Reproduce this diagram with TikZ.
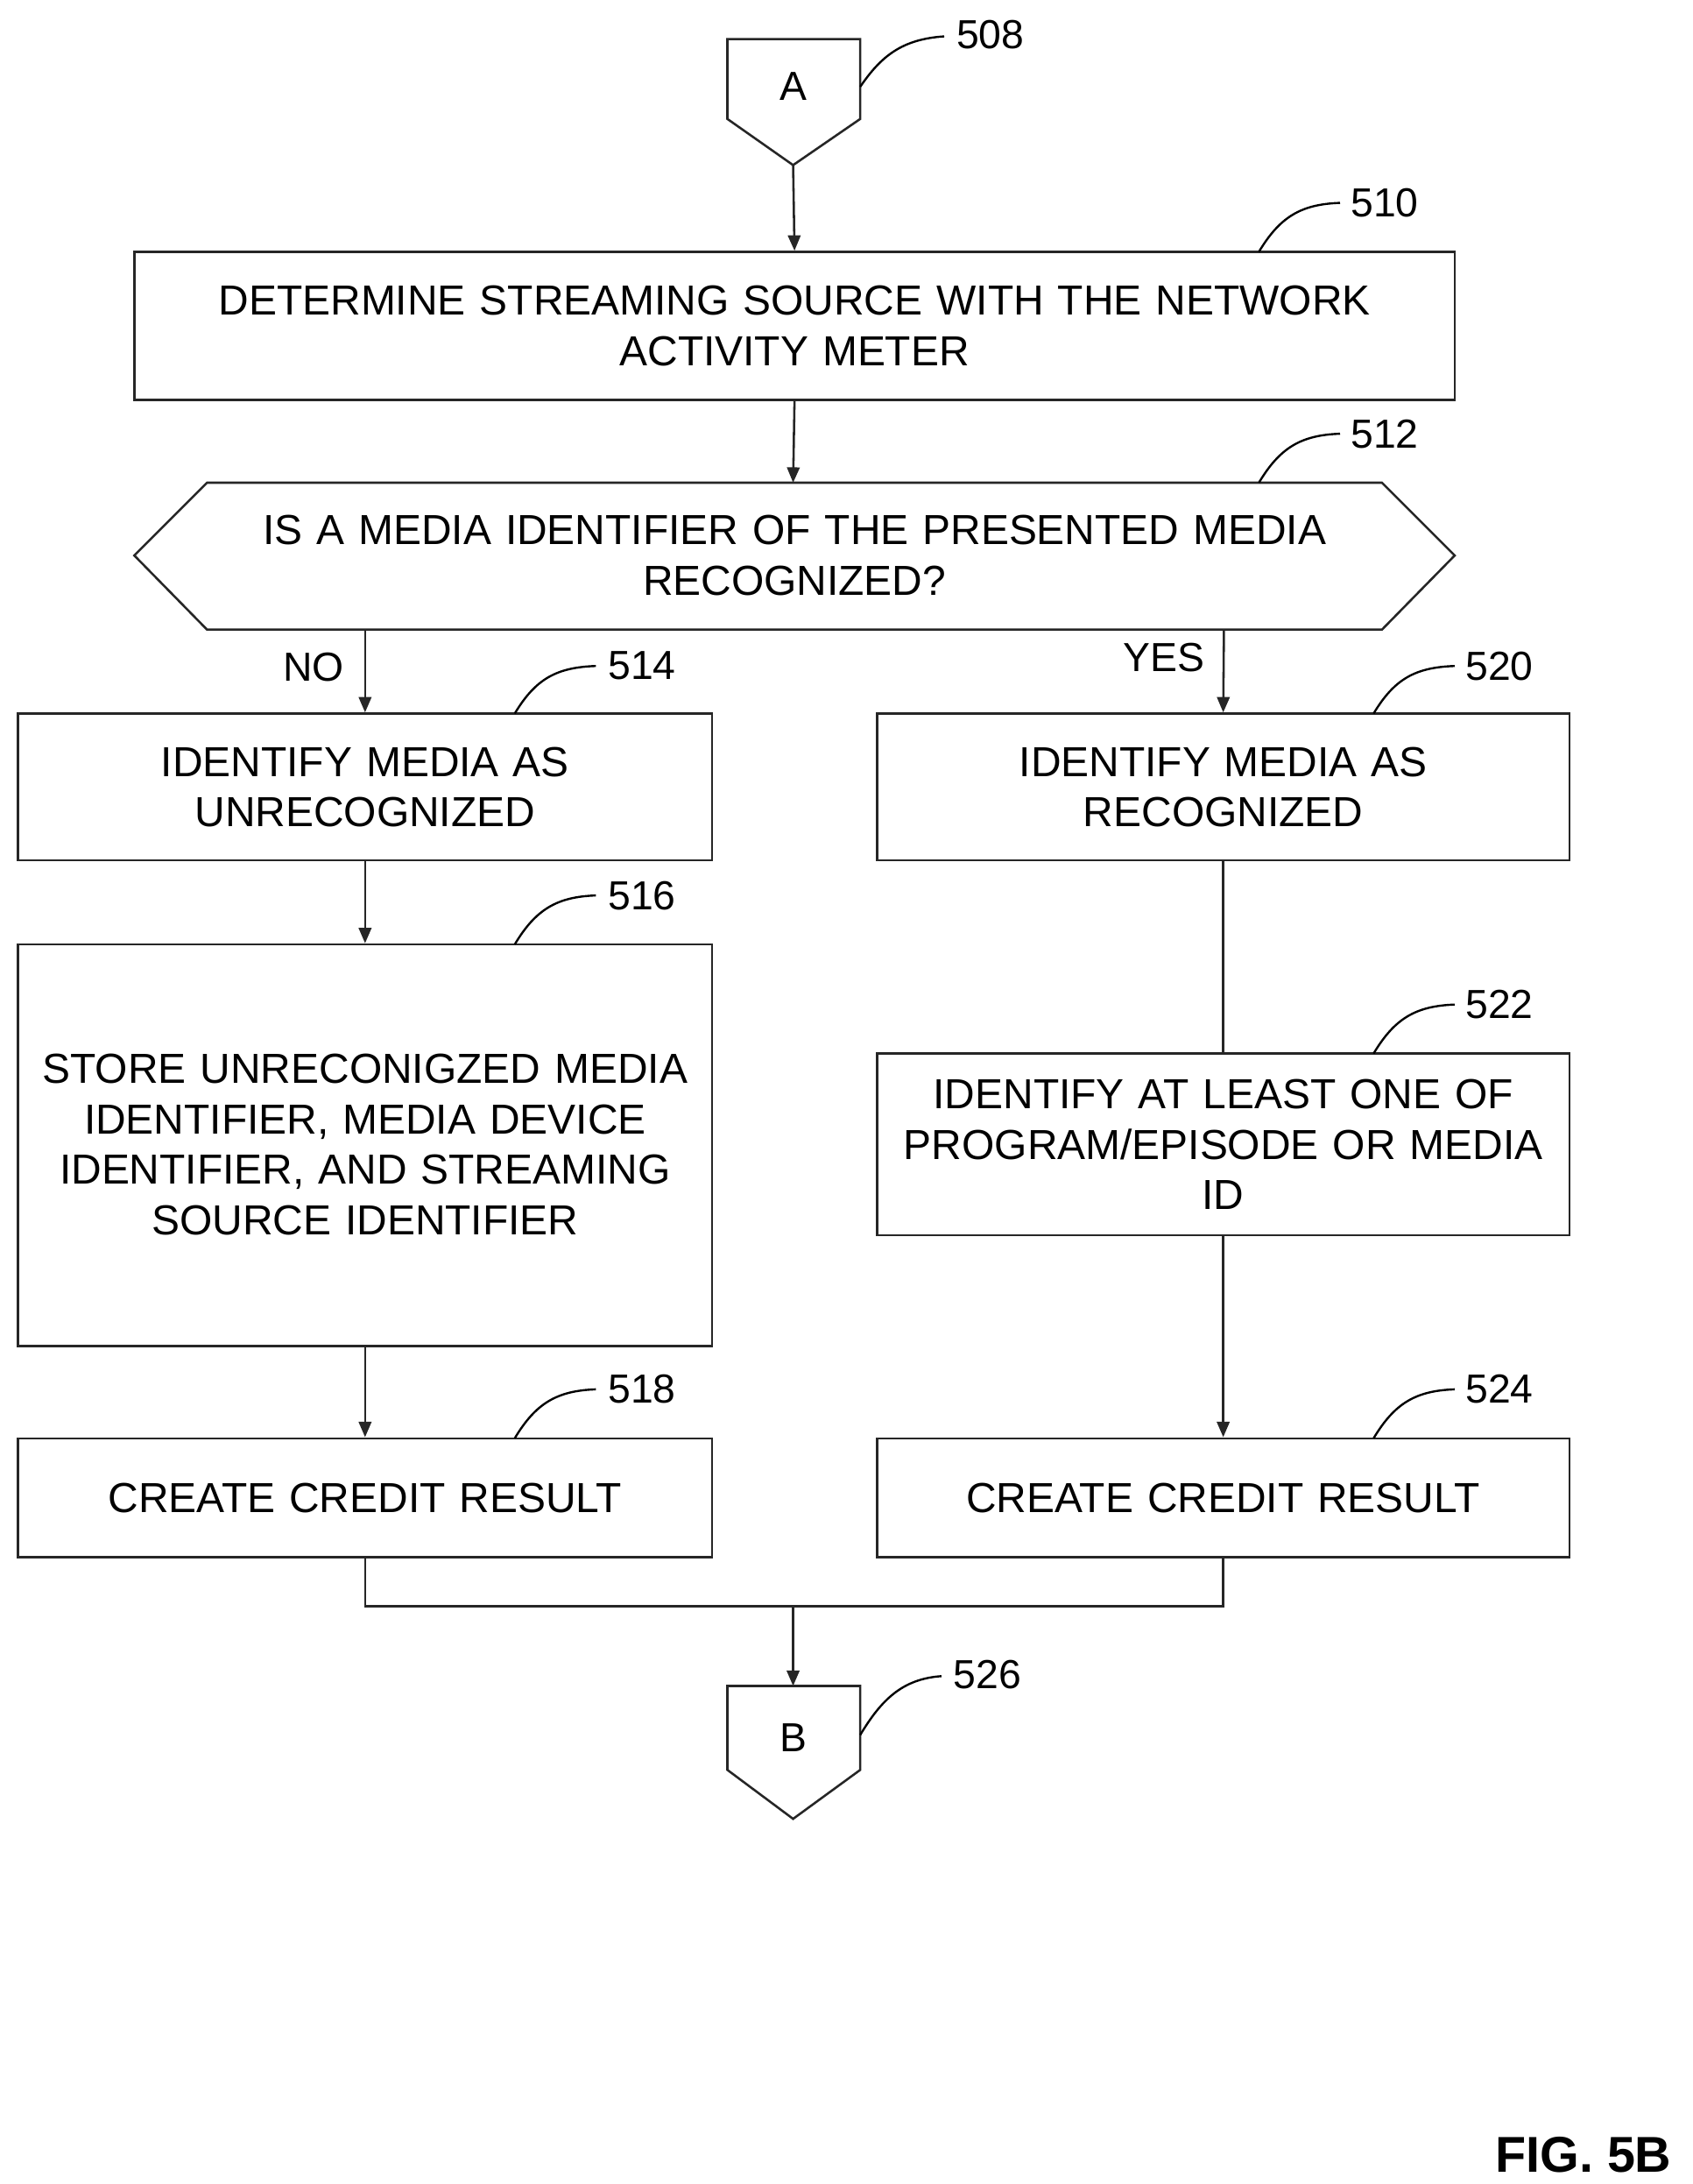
\documentclass[tikz,border=0pt]{standalone}
\usepackage{fontspec}
\setmainfont{Liberation Sans}
\usetikzlibrary{arrows.meta}
\begin{document}
\begin{tikzpicture}[x=1pt,y=-1pt,
  ln/.style={line width=1.6pt,draw=black!85},
  arr/.style={ln,-{Triangle[length=11pt,width=9pt]}},
  lbl/.style={font=\fontsize{30}{36}\selectfont,align=center,text width=#1},
  num/.style={font=\fontsize{29}{32}\selectfont},
  lead/.style={line width=1.5pt}]
\useasboundingbox (0,0) rectangle (1210,1561);
% connector A
\draw[ln] (520,28) -- (615,28) -- (615,85) -- (567,118) -- (520,85) -- cycle;
\node[num] (A) at (567,62) {A};
\coordinate (Abot) at (567,118);
\node[num] (n508) at (708,25) {508};
\draw[lead] (615,62) .. controls (630,40) and (645,28) .. (675,26);
% 510
\node[draw,ln,minimum width=944pt,minimum height=106pt] (b510) at (568,233) {};
\node[lbl=900pt] at (b510) {DETERMINE STREAMING SOURCE WITH THE NETWORK\\ACTIVITY METER};
\node[num] (n510) at (990,145) {510};
\draw[lead] (900,180) .. controls (915,155) and (930,146) .. (958,145);
\draw[arr] (Abot) -- (b510.north);
% 512 hexagon
\draw[ln] (148,345) -- (988,345) -- (1040,397) -- (988,450) -- (148,450) -- (96,397) -- cycle;
\coordinate (h512t) at (567,345);
\node[lbl=880pt] (t512) at (568,397) {IS A MEDIA IDENTIFIER OF THE PRESENTED MEDIA\\RECOGNIZED?};
\node[num] (n512) at (990,310) {512};
\draw[lead] (900,345) .. controls (915,320) and (930,311) .. (958,310);
\draw[arr] (b510.south) -- (h512t);
\coordinate (hNo) at (261,450);
\coordinate (hYes) at (875,450);
% 514
\node[draw,ln,minimum width=496pt,minimum height=105pt] (b514) at (261,562.5) {};
\node[lbl=470pt] at (b514) {IDENTIFY MEDIA AS\\UNRECOGNIZED};
\node[num] (n514) at (459,476) {514};
\draw[lead] (368,510) .. controls (383,485) and (398,477) .. (426,476);
% 520
\node[draw,ln,minimum width=495pt,minimum height=105pt] (b520) at (874.5,562.5) {};
\node[lbl=470pt] at (b520) {IDENTIFY MEDIA AS\\RECOGNIZED};
\node[num] (n520) at (1072,476) {520};
\draw[lead] (982,510) .. controls (997,485) and (1012,477) .. (1040,476);
\draw[arr] (hNo) -- (b514.north);
\draw[arr] (hYes) -- (b520.north);
\node[num] (no) at (224,477) {NO};
\node[num] (yes) at (832,470) {YES};
% 516
\node[draw,ln,minimum width=496pt,minimum height=287pt] (b516) at (261,818.5) {};
\node[lbl=490pt] at (261,818) {STORE UNRECONIGZED MEDIA\\IDENTIFIER, MEDIA DEVICE\\IDENTIFIER, AND STREAMING\\SOURCE IDENTIFIER};
\node[num] (n516) at (459,640) {516};
\draw[lead] (368,675) .. controls (383,650) and (398,641) .. (426,640);
\draw[arr] (b514.south) -- (b516.north);
% 522
\node[draw,ln,minimum width=495pt,minimum height=130pt] (b522) at (874.5,818) {};
\node[lbl=490pt] at (874.5,818) {IDENTIFY AT LEAST ONE OF\\PROGRAM/EPISODE OR MEDIA\\ID};
\node[num] (n522) at (1072,718) {522};
\draw[lead] (982,753) .. controls (997,728) and (1012,719) .. (1040,718);
\draw[ln] (b520.south) -- (b522.north);
% 518, 524
\node[draw,ln,minimum width=496pt,minimum height=85pt] (b518) at (261,1070.5) {};
\node[lbl=470pt] at (b518) {CREATE CREDIT RESULT};
\node[num] (n518) at (459,993) {518};
\draw[lead] (368,1028) .. controls (383,1003) and (398,994) .. (426,993);
\node[draw,ln,minimum width=495pt,minimum height=85pt] (b524) at (874.5,1070.5) {};
\node[lbl=470pt] at (b524) {CREATE CREDIT RESULT};
\node[num] (n524) at (1072,993) {524};
\draw[lead] (982,1028) .. controls (997,1003) and (1012,994) .. (1040,993);
\draw[arr] (b516.south) -- (b518.north);
\draw[arr] (b522.south) -- (b524.north);
% merge
\coordinate (m) at (567,1148);
\draw[ln] (b518.south) |- (m) -| (b524.south);
% connector B
\draw[ln] (520,1205) -- (615,1205) -- (615,1265) -- (567,1300) -- (520,1265) -- cycle;
\node[num] (B) at (567,1242) {B};
\coordinate (Btop) at (567,1205);
\draw[arr] (m) -- (Btop);
\node[num] (n526) at (706,1197) {526};
\draw[lead] (615,1240) .. controls (630,1215) and (645,1200) .. (673,1198);
\node[font=\fontsize{36}{40}\selectfont\bfseries] (fig) at (1132,1540) {FIG. 5B};
\end{tikzpicture}
\end{document}
